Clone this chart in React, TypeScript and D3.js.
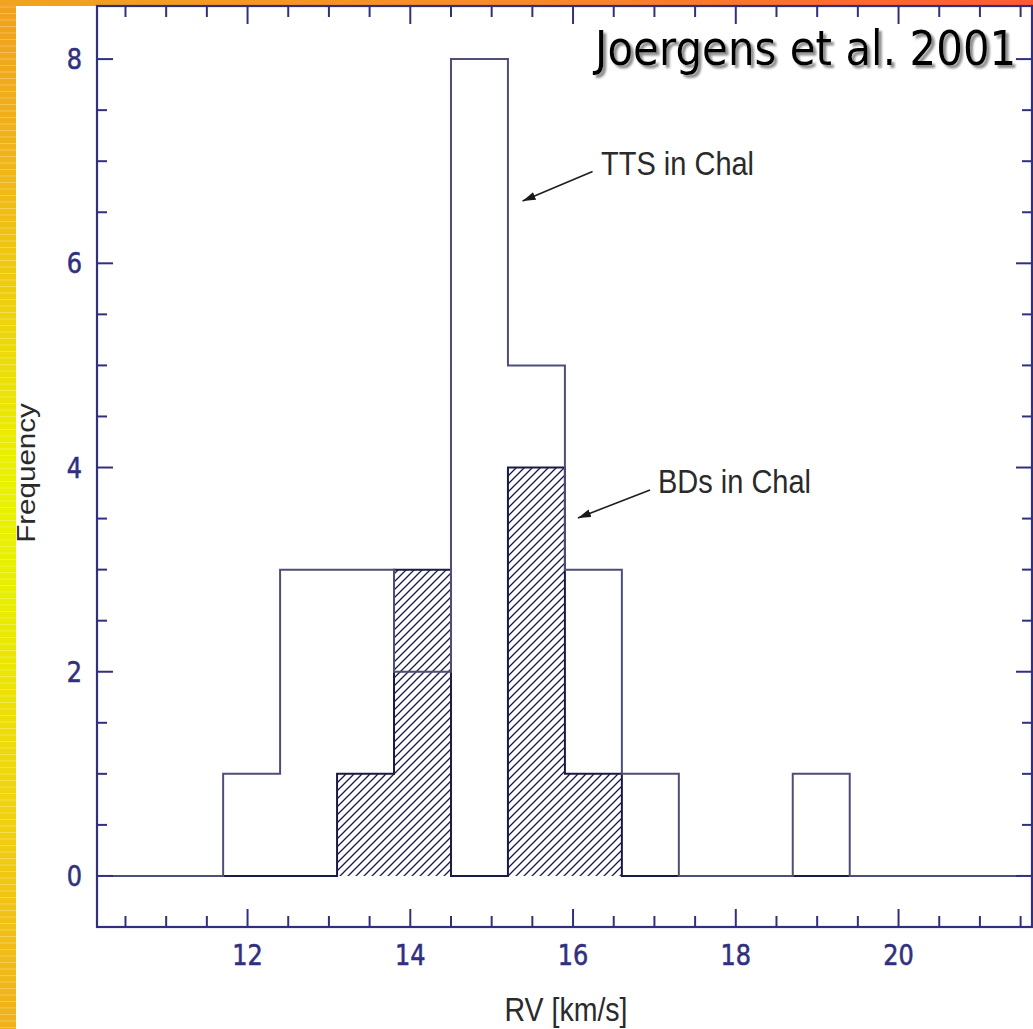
import React from 'react';
import * as d3 from 'd3';

// Histogram bin edges (km/s) and counts per bin
const binEdges = [10.3, 11.0, 11.7, 12.4, 13.1, 13.8, 14.5, 15.2, 15.9, 16.6, 17.3, 18.0, 18.7, 19.4, 20.1, 20.8, 21.5];
const ttsCounts = [0, 0, 1, 3, 3, 2, 8, 5, 3, 1, 0, 0, 1, 0, 0, 0];
const bdCounts = [0, 0, 0, 0, 1, 3, 0, 4, 1, 0, 0, 0, 0, 0, 0, 0];

// Axis tick labels
const xTickLabels = [12, 14, 16, 18, 20];
const yTickLabels = [0, 2, 4, 6, 8];

// Annotation arrows: tail -> tip, with label anchor (data units)
const annotations = [
  { text: 'TTS in Chal', tail: [16.24, 6.9], tip: [15.38, 6.61], label: [16.344, 6.866] },
  { text: 'BDs in Chal', tail: [16.946, 3.78], tip: [16.06, 3.506], label: [17.044, 3.751] },
];

const W = 1033;
const H = 1029;
const frame = { left: 97, right: 1032, top: 6, bottom: 927 };
const xDomain = [10.15, 21.64];
const yDomain = [-0.5, 8.52];

const AXIS = '#30307e';
const TTS_LINE = '#4e4e78';
const BD_LINE = '#1a1a46';
const TEXT = '#2a2a2a';
const SY = 1.16; // vertical stretch of lettering

const x = d3.scaleLinear().domain(xDomain).range([frame.left, frame.right]);
const y = d3.scaleLinear().domain(yDomain).range([frame.bottom, frame.top]);

function stepPoints(counts: number[]): [number, number][] {
  const pts: [number, number][] = [[binEdges[0], 0]];
  counts.forEach((c, i) => {
    pts.push([binEdges[i], c]);
    pts.push([binEdges[i + 1], c]);
  });
  pts.push([binEdges[binEdges.length - 1], 0]);
  return pts;
}

const stepLine = d3
  .line<[number, number]>()
  .x((d) => x(d[0]))
  .y((d) => y(d[1]));

const xTicks = d3.range(10.5, 21.6, 0.5);
const yTicks = d3.range(0, 8.01, 0.5);
const isMajor = (v: number) => Math.abs(v / 2 - Math.round(v / 2)) < 1e-6;

function SText(props: {
  x: number;
  y: number;
  anchor?: string;
  size: number;
  family: string;
  fill: string;
  dy?: string;
  children: React.ReactNode;
  filter?: string;
  stroke?: string;
  strokeWidth?: number;
}) {
  const { x: tx, y: ty, anchor = 'start', size, family, fill, dy, children, filter, stroke, strokeWidth } = props;
  return (
    <g transform={`translate(${tx},${ty}) scale(1,${SY})`}>
      <text
        textAnchor={anchor}
        fontSize={size}
        fontFamily={family}
        fill={fill}
        dy={dy}
        filter={filter}
        stroke={stroke}
        strokeWidth={strokeWidth}
      >
        {children}
      </text>
    </g>
  );
}

export default function App() {
  const majorLen = 16;
  const minorLen = 10;
  const sans = '"Liberation Sans", Arial, Helvetica, sans-serif';
  const tickFont = '"DejaVu Sans", Verdana, sans-serif';

  return (
    <svg
      width={W}
      height={H}
      viewBox={`0 0 ${W} ${H}`}
      style={{ position: 'absolute', left: 0, top: 0, display: 'block' }}
    >
      <defs>
        <linearGradient id="sideGrad" x1="0" y1="0" x2="0" y2="1">
          <stop offset="0" stopColor="#f0a01e" />
          <stop offset="0.18" stopColor="#f0b818" />
          <stop offset="0.45" stopColor="#e9f000" />
          <stop offset="0.58" stopColor="#e8ee00" />
          <stop offset="0.8" stopColor="#f0d010" />
          <stop offset="1" stopColor="#f0b01c" />
        </linearGradient>
        <linearGradient id="topGrad" x1="0" y1="0" x2="1" y2="0">
          <stop offset="0" stopColor="#f0a41e" />
          <stop offset="0.5" stopColor="#f88a28" />
          <stop offset="1" stopColor="#ff5a32" />
        </linearGradient>
        <pattern id="streaks" patternUnits="userSpaceOnUse" width="16" height="6.5">
          <line x1="0" y1="0.5" x2="16" y2="0.5" stroke="#ffffff" strokeWidth="0.8" opacity="0.35" />
        </pattern>
        <pattern id="hatch" patternUnits="userSpaceOnUse" width="8" height="8">
          <path d="M-1,1 L1,-1 M0,8 L8,0 M7,9 L9,7" stroke={BD_LINE} strokeWidth="1.3" />
        </pattern>
        <marker
          id="arrowHead"
          markerUnits="userSpaceOnUse"
          markerWidth="14"
          markerHeight="10"
          refX="13"
          refY="4"
          orient="auto"
        >
          <path d="M0,0 L13,4 L0,8 Z" fill="#1a1a1a" />
        </marker>
        <filter id="dropShadow" x="-5%" y="-20%" width="115%" height="150%">
          <feGaussianBlur in="SourceAlpha" stdDeviation="0.9" result="blur" />
          <feOffset in="blur" dx="2.5" dy="2.5" result="off" />
          <feFlood floodColor="#8c8c8c" result="col" />
          <feComposite in="col" in2="off" operator="in" result="shadow" />
          <feMerge>
            <feMergeNode in="shadow" />
            <feMergeNode in="SourceGraphic" />
          </feMerge>
        </filter>
      </defs>

      {/* page background */}
      <rect x={0} y={0} width={W} height={H} fill="#ffffff" />
      <rect x={0} y={0} width={16} height={H} fill="url(#sideGrad)" />
      <rect x={0} y={0} width={16} height={H} fill="url(#streaks)" />
      <rect x={0} y={0} width={W} height={6} fill="url(#topGrad)" />

      {/* hatched BD bins */}
      {bdCounts.map((c, i) =>
        c > 0 ? (
          <rect
            key={`bd-${i}`}
            x={x(binEdges[i])}
            y={y(c)}
            width={x(binEdges[i + 1]) - x(binEdges[i])}
            height={y(0) - y(c)}
            fill="url(#hatch)"
          />
        ) : null
      )}

      {/* step outlines */}
      <path d={stepLine(stepPoints(bdCounts)) || ''} fill="none" stroke={BD_LINE} strokeWidth={2} />
      <path d={stepLine(stepPoints(ttsCounts)) || ''} fill="none" stroke={TTS_LINE} strokeWidth={2} />

      {/* frame */}
      <rect
        x={frame.left}
        y={frame.top}
        width={frame.right - frame.left}
        height={frame.bottom - frame.top}
        fill="none"
        stroke={AXIS}
        strokeWidth={2.2}
      />

      {/* x ticks: bottom and top */}
      {xTicks.map((v) => {
        const len = isMajor(v) ? majorLen + 2 : minorLen + 1;
        const px = x(v);
        return (
          <g key={`xt-${v}`} stroke={AXIS} strokeWidth={2}>
            <line x1={px} x2={px} y1={frame.bottom} y2={frame.bottom - len} />
            <line x1={px} x2={px} y1={frame.top} y2={frame.top + len} />
          </g>
        );
      })}

      {/* y ticks: left and right */}
      {yTicks.map((v) => {
        const len = isMajor(v) ? majorLen : minorLen;
        const py = y(v);
        return (
          <g key={`yt-${v}`} stroke={AXIS} strokeWidth={2}>
            <line x1={frame.left} x2={frame.left + len} y1={py} y2={py} />
            <line x1={frame.right} x2={frame.right - len} y1={py} y2={py} />
          </g>
        );
      })}

      {/* tick labels */}
      {xTickLabels.map((v) => (
        <SText key={`xl-${v}`} x={x(v)} y={frame.bottom + 28} anchor="middle" size={24} family={tickFont} fill={AXIS} stroke={AXIS} strokeWidth={0.5} dy="0.36em">
          {v}
        </SText>
      ))}
      {yTickLabels.map((v) => (
        <SText key={`yl-${v}`} x={82} y={y(v)} anchor="end" size={24} family={tickFont} fill={AXIS} stroke={AXIS} strokeWidth={0.5} dy="0.36em">
          {v}
        </SText>
      ))}

      {/* axis titles */}
      <SText x={566} y={1021} anchor="middle" size={28.5} family={sans} fill={TEXT}>
        RV [km/s]
      </SText>
      <g transform={`translate(35,473) scale(1,${SY}) rotate(-90)`}>
        <text textAnchor="middle" fontSize={25.5} fontFamily={sans} fill={TEXT}>
          Frequency
        </text>
      </g>

      {/* annotations */}
      {annotations.map((a) => (
        <g key={a.text}>
          <line
            x1={x(a.tail[0])}
            y1={y(a.tail[1])}
            x2={x(a.tip[0])}
            y2={y(a.tip[1])}
            stroke="#1e1e1e"
            strokeWidth={1.6}
            markerEnd="url(#arrowHead)"
          />
          <SText x={x(a.label[0])} y={y(a.label[1])} size={29} family={sans} fill={TEXT}>
            {a.text}
          </SText>
        </g>
      ))}

      {/* citation with drop shadow */}
      <SText x={595} y={65} size={42} family={tickFont} fill="#000000" filter="url(#dropShadow)">
        Joergens et al. 2001
      </SText>
    </svg>
  );
}
